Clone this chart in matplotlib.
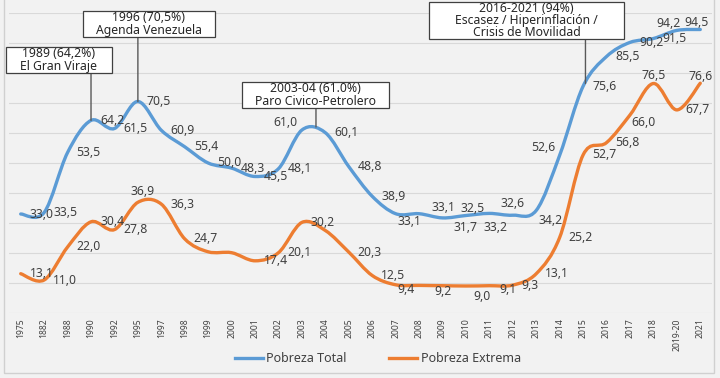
import numpy as np
import matplotlib
matplotlib.use('Agg')
import matplotlib.pyplot as plt
from matplotlib.path import Path
from matplotlib.patches import PathPatch, Rectangle
from matplotlib.lines import Line2D
from matplotlib.transforms import blended_transform_factory

plt.rcParams['font.family'] = ['Noto Sans', 'DejaVu Sans']

# data
years = ['1975', '1882', '1988', '1990', '1992', '1995', '1997', '1998', '1999', '2000',
         '2001', '2002', '2003', '2004', '2005', '2006', '2007', '2008', '2009', '2010',
         '2011', '2012', '2013', '2014', '2015', '2016', '2017', '2018', '2019-20', '2021']
pobreza_total = [33.0, 33.5, 53.5, 64.2, 61.5, 70.5, 60.9, 55.4, 50.0, 48.3,
                 45.5, 48.1, 61.0, 60.1, 48.8, 38.9, 33.1, 33.1, 31.7, 32.5,
                 33.2, 32.6, 34.2, 52.6, 75.6, 85.5, 90.2, 91.5, 94.2, 94.5]
pobreza_extrema = [13.1, 11.0, 22.0, 30.4, 27.8, 36.9, 36.3, 24.7, 20.4, 20.1,
                   17.4, 20.1, 30.2, 27.5, 20.3, 12.5, 9.4, 9.2, 9.1, 9.0,
                   9.1, 9.3, 13.1, 25.2, 52.7, 56.8, 66.0, 76.5, 67.7, 76.6]

BLUE = '#5b9bd5'
ORANGE = '#ed7d31'
TXT = '#404040'
W, H = 720, 378

# label placement tweaks (dx, dy in pixels, ha); None = no label shown
total_lbl = {12: (-4, 7, 'right'), 16: (2, -8, 'left'), 17: (12, 6, 'left'),
             18: (11, -10, 'left'), 19: (-5, 7, 'left'), 20: (-6, -14, 'left'),
             21: (-12, 12, 'left'), 22: (2, -10, 'left'), 23: (-4, 8, 'right'),
             28: (-8, 7, 'center'), 29: (-4, 7, 'center')}
extrema_lbl = {5: (5, 11, 'center'), 8: None, 9: None, 13: None, 16: (2, -5, 'left'),
               17: (15, -6, 'left'), 18: None, 19: (7, -11, 'left'),
               20: (10, -4, 'left'), 26: (1, -7, 'left'), 27: (0, 8, 'center'),
               29: (0, 7, 'center')}


def smooth_path(x, y):
    # bezier segments like the smoothed lines of a spreadsheet chart
    n = len(x)
    verts = [(x[0], y[0])]
    codes = [Path.MOVETO]
    for i in range(n - 1):
        xa, ya = (x[i - 1], y[i - 1]) if i > 0 else (x[i], y[i])
        xb, yb = (x[i + 2], y[i + 2]) if i < n - 2 else (x[i + 1], y[i + 1])
        c1 = (x[i] + (x[i + 1] - xa) / 6, y[i] + (y[i + 1] - ya) / 6)
        c2 = (x[i + 1] - (xb - x[i]) / 6, y[i + 1] - (yb - y[i]) / 6)
        verts += [c1, c2, (x[i + 1], y[i + 1])]
        codes += [Path.CURVE4] * 3
    return Path(verts, codes)


fig = plt.figure(figsize=(7.2, 3.78), dpi=100, facecolor='#f2f2f2')
ax = fig.add_axes([9 / W, 1 - 313 / H, 703 / W, 300 / H])
ax.set_facecolor('#f2f2f2')

# chart frame
fig.add_artist(Rectangle((4 / W, 1 - 373 / H), 710 / W, 380 / H, transform=fig.transFigure,
                         fill=False, ec='#d0d0d0', lw=1))

xs = np.arange(len(years))
ax.set_xlim(-0.5, len(years) - 0.5)
ax.set_ylim(0, 100)
ax.set_yticks(np.arange(0, 101, 10))
ax.set_yticklabels([])
ax.tick_params(axis='y', length=0)
ax.grid(axis='y', color='#d9d9d9', lw=0.8)
ax.set_axisbelow(True)
ax.set_xticks(xs)
ax.set_xticklabels(years, rotation=90, fontsize=6.2, color=TXT)
ax.tick_params(axis='x', length=0, pad=4)
for s in ax.spines.values():
    s.set_visible(False)

for vals, col, tweaks in [(pobreza_total, BLUE, total_lbl), (pobreza_extrema, ORANGE, extrema_lbl)]:
    ax.add_patch(PathPatch(smooth_path(xs, vals), fill=False, ec=col, lw=2.4,
                           capstyle='round', zorder=3))
    for i, v in enumerate(vals):
        t = tweaks.get(i, (9, 0, 'left'))
        if t is None:
            continue
        ax.annotate(f'{v:.1f}'.replace('.', ','), xy=(i, v), xytext=(t[0], t[1]),
                    textcoords='offset pixels', ha=t[2], va='center',
                    fontsize=8.8, color=TXT, zorder=4)

# callout boxes: text, box in image pixels (x0, top, x1, bottom), connector x, connector end
notes = [
    ('1989 (64,2%)\nEl Gran Viraje', (6, 47, 112, 73), 3.0, 64.2),
    ('1996 (70,5%)\nAgenda Venezuela', (83, 11, 215, 37), 5.0, 70.5),
    ('2003-04 (61.0%)\nParo Civico-Petrolero', (242, 82, 389, 108), 12.6, 62.0),
    ('2016-2021 (94%)\nEscasez / Hiperinflación /\nCrisis de Movilidad', (429, 2, 624, 39), 24.1, 76.5),
]
blend = blended_transform_factory(ax.transData, fig.transFigure)
for txt, (x0, y0, x1, y1), lx, ly in notes:
    ax.annotate('', xy=(lx, ly), xycoords='data', xytext=(lx, 1 - y1 / H), textcoords=blend,
                arrowprops=dict(arrowstyle='-', color='#595959', lw=1, shrinkA=0, shrinkB=0),
                annotation_clip=False)
    fig.add_artist(Rectangle((x0 / W, 1 - y1 / H), (x1 - x0) / W, (y1 - y0) / H,
                             transform=fig.transFigure, fc='white', ec='#404040', lw=0.9, zorder=5))
    fig.text((x0 + x1) / 2 / W, 1 - (y0 + y1) / 2 / H, txt, ha='center', va='center',
             fontsize=8.8, color='#262626', linespacing=0.92, zorder=6)

handles = [Line2D([], [], color=BLUE, lw=2.4), Line2D([], [], color=ORANGE, lw=2.4)]
fig.legend(handles, ['Pobreza Total', 'Pobreza Extrema'], loc='center',
           bbox_to_anchor=(378 / W, 1 - 359 / H), ncol=2, frameon=False, fontsize=9,
           handlelength=2.2, handletextpad=0.3, columnspacing=3.4, labelcolor=TXT)

fig.savefig('out.png', dpi=100, facecolor=fig.get_facecolor())
